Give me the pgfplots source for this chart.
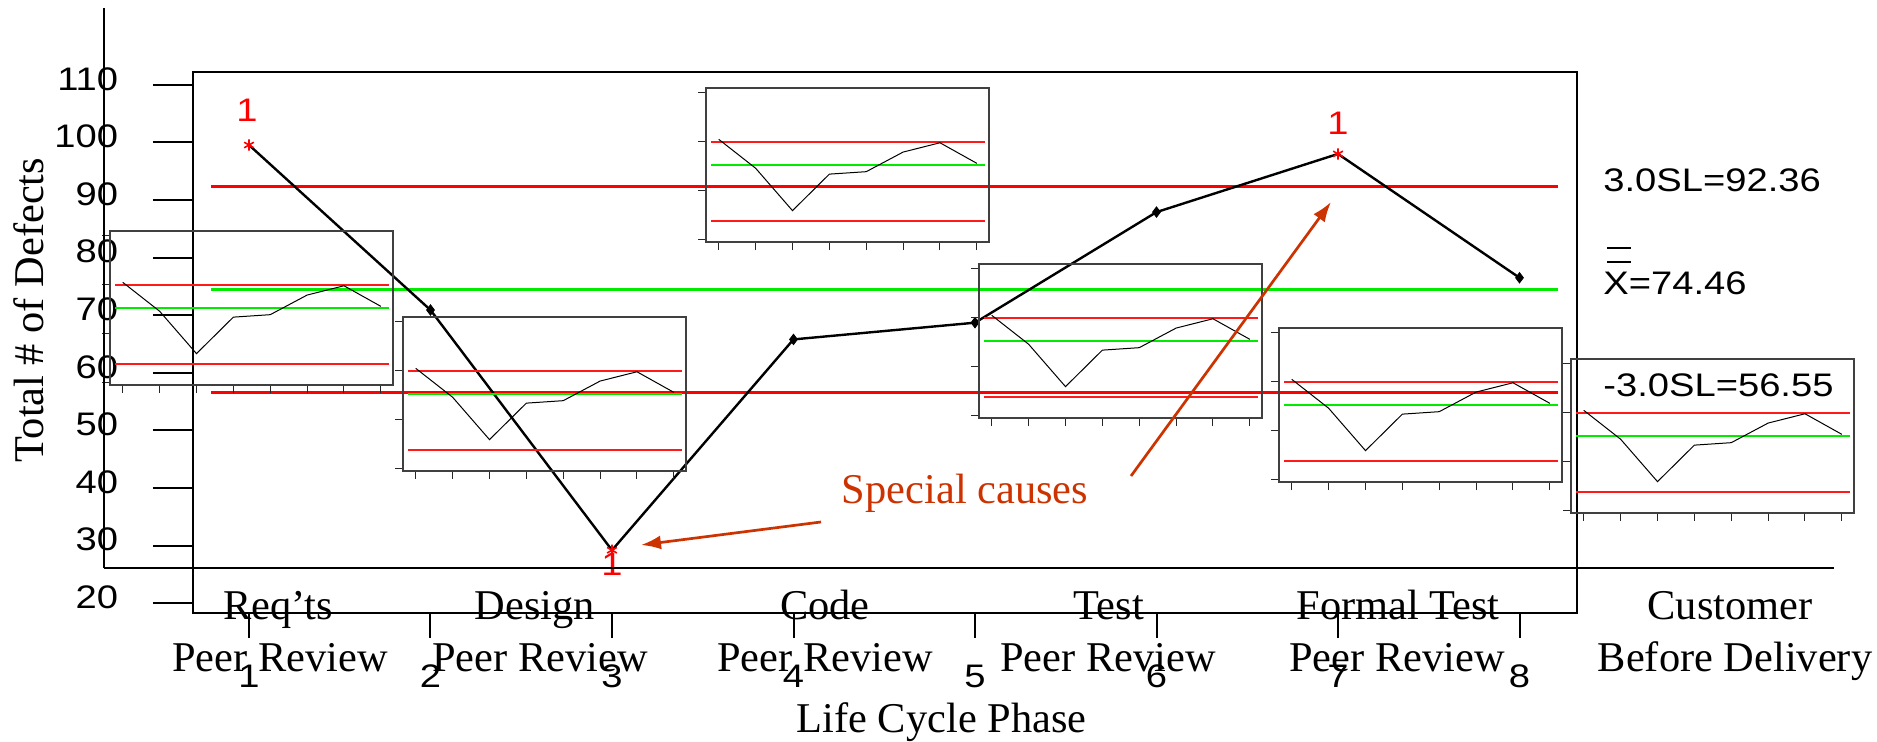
\documentclass[border=0pt]{standalone}
\usepackage{fontspec}
\setmainfont{Liberation Serif}
\newfontfamily\arialf[FakeStretch=1.17]{Liberation Sans}
\usepackage{pgfplots}
\usepackage{pgfplotstable}
\pgfplotsset{compat=1.18}
\usetikzlibrary{arrows.meta}

\definecolor{cgreen}{RGB}{0,235,0}
\definecolor{special}{RGB}{204,51,0}
\newcommand{\numfont}{\arialf\fontsize{16.3}{18}\selectfont}
\newcommand{\catfont}{\fontsize{21.2}{26}\selectfont}

\pgfplotstableread{
x y
1 99.55
2 70.9
3 29.2
4 65.8
5 68.7
6 87.9
7 98.0
8 76.5
}\maindata

\pgfplotstableread{
x y
1 80.8
2 69.0
3 51.7
4 66.6
5 67.6
6 75.6
7 79.4
8 71.0
}\insetdata

\newcommand{\inset}[2]{%
\begin{axis}[at={(#1,#2)}, anchor=south west, scale only axis,
  width=141.5pt, height=77pt,
  xmin=0.654, xmax=8.33, ymin=38.9, ymax=101.76,
  xtick={1,...,8}, ytick={40,60,80,100},
  xticklabels={}, yticklabels={},
  tick align=outside, tick pos=left, major tick length=4pt,
  axis line style={draw=black!75, line width=0.7pt},
  tick style={line width=0.5pt, black!85}]
\addplot[red!90, line width=0.8pt] coordinates {(0.79,79.8) (8.22,79.8)};
\addplot[cgreen, line width=0.8pt] coordinates {(0.79,70.3) (8.22,70.3)};
\addplot[red!90, line width=0.8pt] coordinates {(0.79,47.5) (8.22,47.5)};
\addplot[black, line width=0.5pt] table {\insetdata};
\end{axis}}

\begin{document}
\begin{tikzpicture}
\begin{axis}[
  x=90.75pt, y=2.88pt,
  xmin=0.6915, xmax=8.317, ymin=18.3, ymax=112.22,
  axis line style={line width=1.1pt},
  tick align=outside, tick pos=left,
  ytick={20,30,...,110}, xtick={1,...,8},
  ytick style={line width=1pt, black, /pgfplots/major tick length=20pt},
  xtick style={line width=1pt, black, /pgfplots/major tick length=12.5pt},
  tick label style={font=\numfont},
  /pgf/number format/assume math mode=true,
  yticklabel style={anchor=east, inner sep=0pt, xshift=-33pt, yshift=3pt},
  xticklabel style={anchor=north, inner sep=0pt, yshift=-21.5pt},
  clip=false,
]
\addplot[red, line width=1.2pt] coordinates {(0.79,92.36) (8.21,92.36)};
\addplot[cgreen, line width=1.2pt] coordinates {(0.79,74.46) (8.21,74.46)};
\addplot[red, line width=1.2pt] coordinates {(0.79,56.55) (8.21,56.55)};
\addplot[black, line width=1.2pt] table {\maindata};
\addplot[only marks, mark=diamond*, mark size=2.6pt, black] coordinates {(2,70.9) (4,65.8) (5,68.7) (6,87.9) (8,76.5)};
\addplot[only marks, mark=asterisk, mark size=2.8pt, red, mark options={line width=0.8pt}] coordinates {(1,99.55) (3,29.2) (7,98.0)};
\node[red, font=\numfont, anchor=base, inner sep=0pt, yshift=11.5pt, xshift=-1pt] at (axis cs:1,99.55) {1};
\node[red, font=\numfont, anchor=base, inner sep=0pt, yshift=9.5pt] at (axis cs:7,98.0) {1};
\node[red, font=\numfont, anchor=north, inner sep=0pt, yshift=-1pt] at (axis cs:3,29.2) {1};
\end{axis}

\inset{-41.5pt}{114pt}
\inset{105pt}{71pt}
\inset{256.5pt}{185.5pt}
\inset{393pt}{97.5pt}
\inset{543pt}{65.5pt}
\inset{689pt}{50pt}

\begin{scope}[shift={(-96.5pt,306.5pt)}, x=0.5pt, y=-0.5pt]
  \draw[line width=1pt] (104,8) -- (104,568);
  \draw[line width=1.25pt] (104,568) -- (1834,568);
  % category labels
  \begin{scope}[every node/.style={font=\catfont, anchor=base, inner sep=0pt}]
    \node at (278,620) {Req’ts};       \node at (280,672) {Peer Review};
    \node at (535,620) {Design};       \node at (540,672) {Peer Review};
    \node at (825,620) {Code};         \node at (825,672) {Peer Review};
    \node at (1109,620) {Test};        \node at (1108,672) {Peer Review};
    \node at (1398,620) {Formal Test}; \node at (1397,672) {Peer Review};
    \node at (1730,620) {Customer};    \node at (1735,672) {Before Delivery};
    \node at (941.5,733) {Life Cycle Phase};
    \node[rotate=90] at (44,310) {Total \# of Defects};
    \node[special] at (965,504) {Special causes};
  \end{scope}
  \draw[special, line width=1.35pt, -{Latex[length=10pt, width=7pt]}] (821,522) -- (641,545);
  \draw[special, line width=1.35pt, -{Latex[length=10pt, width=7pt]}] (1131,476) -- (1331,202);
  % control limit labels
  \begin{scope}[every node/.style={font=\numfont, anchor=base west, inner sep=0pt}]
    \node at (1603,191.7) {3.0SL=92.36};
    \node at (1603,295) {X=74.46};
    \node at (1603,396.7) {-3.0SL=56.55};
  \end{scope}
  \draw[line width=0.8pt] (1607,248) -- (1631,248);
  \draw[line width=0.8pt] (1607,262) -- (1631,262);
  \pgfresetboundingbox
  \path[use as bounding box] (0,0) rectangle (1877,742);
\end{scope}
\end{tikzpicture}
\end{document}
